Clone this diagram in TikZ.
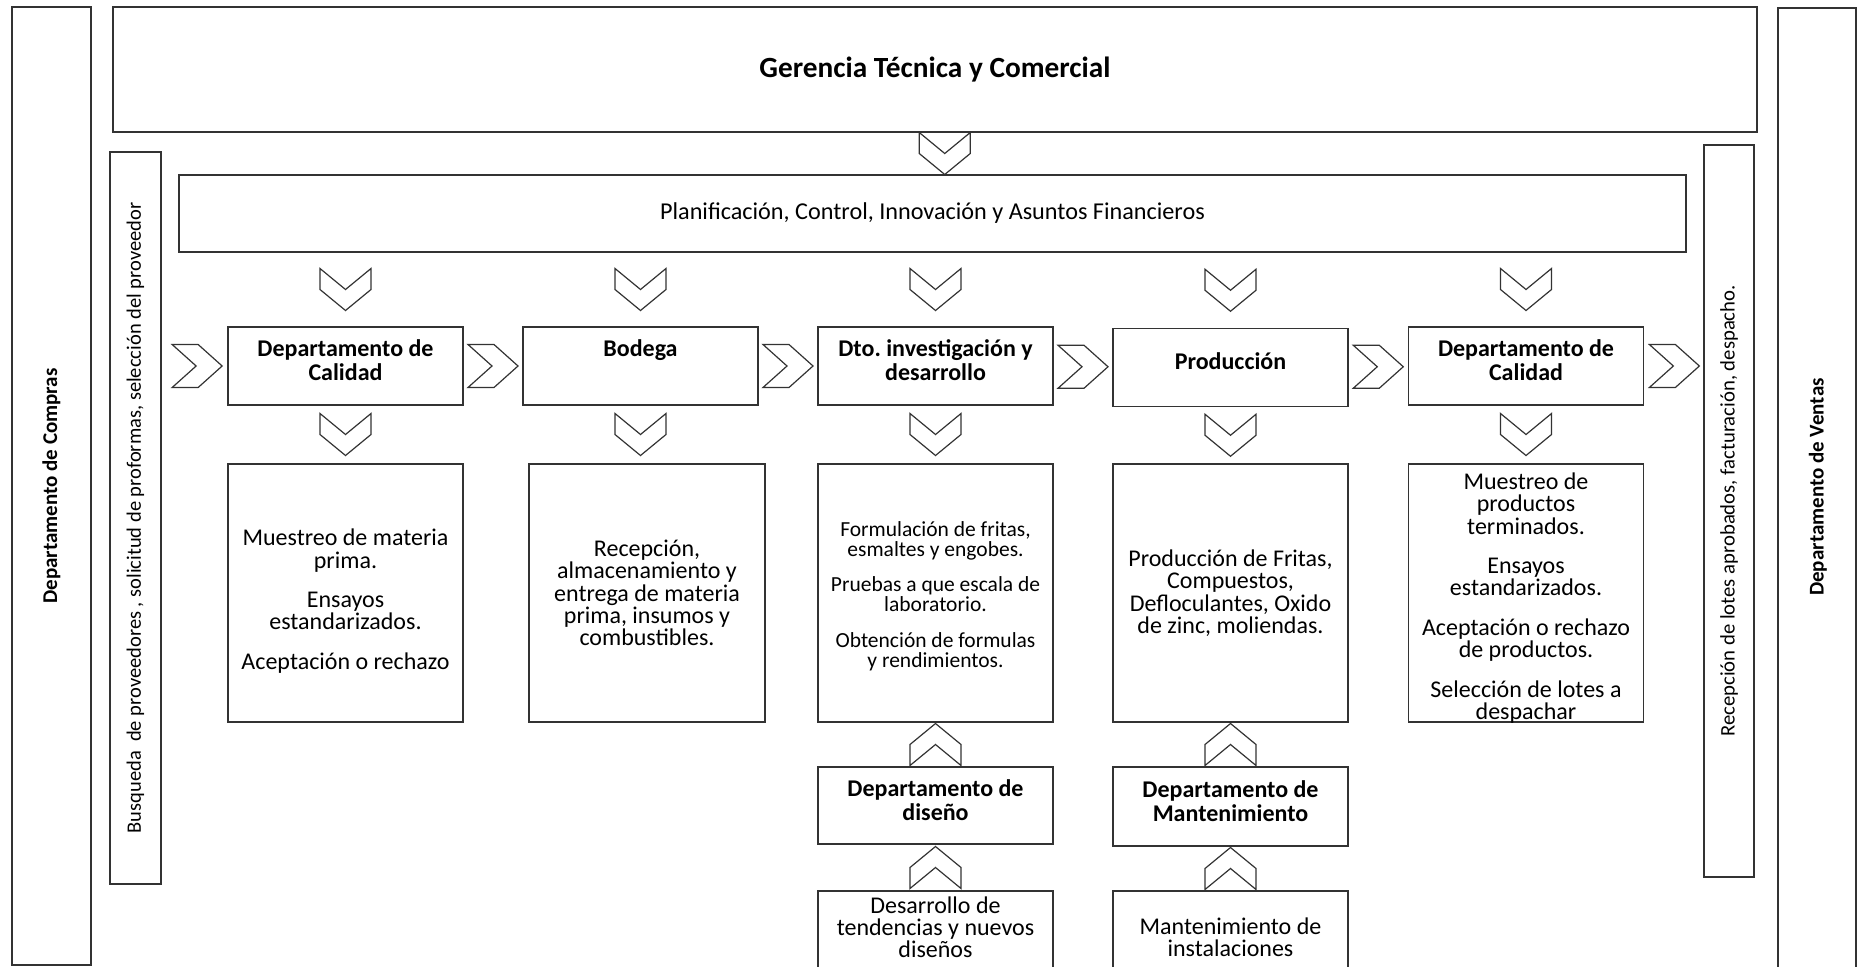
\documentclass[tikz,border=0pt]{standalone}
\usepackage{fontspec}
\setmainfont{Carlito}
\usetikzlibrary{calc}
\frenchspacing
\tikzset{
    box/.style={draw=black!80, line width=1.7pt, inner sep=0pt}, % marco de cada bloque
    hdr/.style={font=\fontsize{24}{24}\selectfont\bfseries, align=center}, % titulos en negrita
    txt/.style={font=\fontsize{24}{22.4}\selectfont, align=center}, % texto de cada bloque
    vlab/.style={font=\fontsize{20.7}{20.7}\selectfont, rotate=90}, % textos verticales
    chev/.style={draw=black!80, line width=1.2pt, line join=miter},
    pics/chevdown/.style={code={\draw[chev] (-25.5,-21) -- (-25.5,0) -- (0,21) -- (25.5,0) -- (25.5,-21) -- (0,0) -- cycle;}},
    pics/chevup/.style={code={\draw[chev] (-25.5,21) -- (-25.5,0) -- (0,-21) -- (25.5,0) -- (25.5,21) -- (0,0) -- cycle;}},
    pics/chevright/.style={code={\draw[chev] (-25,-21.5) -- (1,-21.5) -- (25,0) -- (1,21.5) -- (-25,21.5) -- (-1,0) -- cycle;}}
}

\begin{document}
\begin{tikzpicture}[x=1pt, y=-1pt]
    \useasboundingbox (0,0) rectangle (1857,966);
    \clip (0,0) rectangle (1857,966);

    % columnas laterales
    \node[box, minimum width=79pt, minimum height=958pt] (comp) at (51.5,486) {};
    \node[vlab, font=\fontsize{21}{21}\selectfont\bfseries] (comp-t) at (comp.center) {Departamento de Compras};
    \node[box, minimum width=78pt, minimum height=992pt] (vent) at (1817,504) {};
    \node[vlab, font=\fontsize{21}{21}\selectfont\bfseries] (vent-t) at (1818,487) {Departamento de Ventas};
    \node[box, minimum width=51pt, minimum height=732pt] (busq) at (135.5,518) {};
    \node[vlab, font=\fontsize{20.5}{20.5}\selectfont] (busq-t) at (busq.center) {Busqueda\ \ de proveedores , solicitud de proformas, selección del proveedor};
    \node[box, minimum width=50pt, minimum height=732pt] (recep) at (1729,511) {};
    \node[vlab] (recep-t) at (recep.center) {Recepción de lotes aprobados, facturación, despacho.};

    % gerencia y planificacion
    \node[box, minimum width=1644pt, minimum height=125pt, font=\fontsize{29.3}{29.3}\selectfont\bfseries] (ger) at (935,69.5) {Gerencia Técnica y Comercial};
    \node[box, minimum width=1507pt, minimum height=77pt, font=\fontsize{24.2}{24.2}\selectfont] (plan) at (932.5,213.5) {Planificación, Control, Innovación y Asuntos Financieros};

    % fila principal
    \node[box, minimum width=235pt, minimum height=78pt] (cal1) at (345.5,366) {};
    \node[hdr] (cal1-t) at ([yshift=6pt]cal1.center) {Departamento de\\Calidad};
    \node[box, minimum width=235pt, minimum height=78pt] (bod) at (640.5,366) {};
    \node[hdr] (bod-t) at ([yshift=15.5pt]bod.center) {Bodega};
    \node[box, minimum width=235pt, minimum height=78pt] (dto) at (935.5,366) {};
    \node[hdr] (dto-t) at ([yshift=6pt]dto.center) {Dto. investigación y\\desarrollo};
    \node[box, minimum width=235pt, minimum height=78pt] (prod) at (1230.5,367.5) {};
    \node[hdr] (prod-t) at ([yshift=6pt]prod.center) {Producción};
    \node[box, minimum width=235pt, minimum height=78pt] (cal2) at (1526,366) {};
    \node[hdr] (cal2-t) at ([yshift=6pt]cal2.center) {Departamento de\\Calidad};

    % bloques de detalle
    \node[box, minimum width=235pt, minimum height=258pt] (cal1-det) at (345.5,593) {};
    \node[txt] (cal1-det-t) at ([yshift=-8pt]cal1-det.center) {Muestreo de materia\\prima.\\[17pt]Ensayos\\estandarizados.\\[17pt]Aceptación o rechazo};
    \node[box, txt, minimum width=236pt, minimum height=258pt] (bod-det) at (647,593) {Recepción,\\almacenamiento y\\entrega de materia\\prima, insumos y\\combustibles.};
    \node[box, minimum width=235pt, minimum height=258pt] (dto-det) at (935.5,593) {};
    \node[txt, font=\fontsize{21.5}{19.8}\selectfont] (dto-det-t) at ([yshift=-3pt]dto-det.center) {Formulación de fritas,\\esmaltes y engobes.\\[16pt]Pruebas a que escala de\\laboratorio.\\[16pt]Obtención de formulas\\y rendimientos.};
    \node[box, txt, minimum width=235pt, minimum height=258pt] (prod-det) at (1230.5,593) {Producción de Fritas,\\Compuestos,\\Defloculantes, Oxido\\de zinc, moliendas.};
    \node[box, minimum width=235pt, minimum height=258pt] (cal2-det) at (1526,593) {};
    \node[txt] (cal2-det-t) at ([yshift=-5pt]cal2-det.center) {Muestreo de\\productos\\terminados.\\[17pt]Ensayos\\estandarizados.\\[17pt]Aceptación o rechazo\\de productos.\\[17pt]Selección de lotes a\\despachar};

    % apoyo inferior
    \node[box, minimum width=235pt, minimum height=77pt] (dis) at (935.5,805.5) {};
    \node[hdr] (dis-t) at ([yshift=5pt]dis.center) {Departamento de\\diseño};
    \node[box, minimum width=235pt, minimum height=79pt] (mant) at (1230.5,806.5) {};
    \node[hdr] (mant-t) at ([yshift=5pt]mant.center) {Departamento de\\Mantenimiento};
    \node[box, minimum width=235pt, minimum height=94pt] (desa) at (935.5,938) {};
    \node[txt, font=\fontsize{24}{22}\selectfont] (desa-t) at (935.5,927) {Desarrollo de\\tendencias y nuevos\\diseños};
    \node[box, minimum width=235pt, minimum height=94pt] (inst) at (1230.5,938) {};
    \node[txt, font=\fontsize{24}{21.5}\selectfont] (inst-t) at (1230.5,937) {Mantenimiento de\\instalaciones};

    % flechas
    \pic at ([xshift=11pt]$(ger.south)!0.5!(plan.north)$) {chevdown};
    \pic at ([xshift=-30pt]cal1.west) {chevright};
    \foreach \a/\b in {cal1/bod, bod/dto, dto/prod, prod/cal2} {\pic at ($(\a.east)!0.5!(\b.west)$) {chevright};}
    \pic at ([xshift=30pt]cal2.east) {chevright};
    \foreach \n in {cal1,bod,dto,prod,cal2} {
        \pic at ($(plan.south -| \n.north)!0.5!(\n.north)$) {chevdown};
        \pic at ($(\n.south)!0.5!(\n.south |- \n-det.north)$) {chevdown};
    }
    \pic at ($(dto-det.south)!0.5!(dis.north)$) {chevup};
    \pic at ($(dis.south)!0.5!(desa.north)$) {chevup};
    \pic at ($(prod-det.south)!0.5!(mant.north)$) {chevup};
    \pic at ($(mant.south)!0.5!(inst.north)$) {chevup};
\end{tikzpicture}
\end{document}
